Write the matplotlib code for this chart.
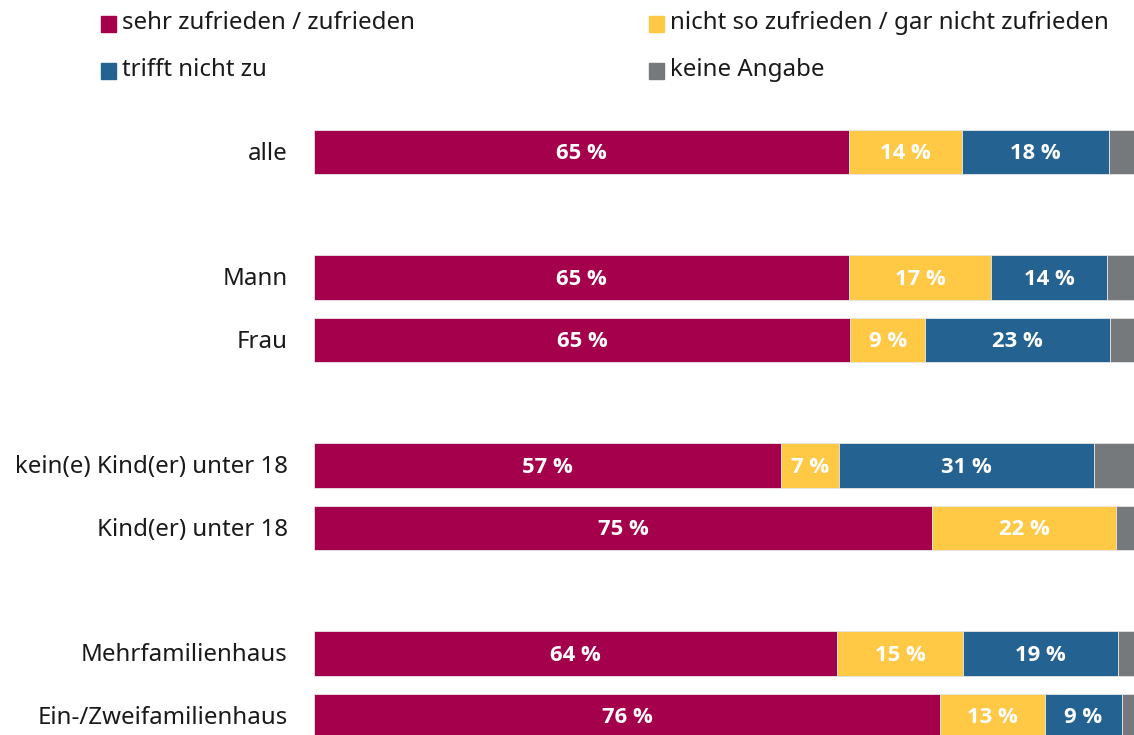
import matplotlib.pyplot as plt
from matplotlib.patches import Rectangle

plt.rcParams['font.family'] = ['Noto Sans', 'DejaVu Sans']

categories = ['alle', 'Mann', 'Frau', 'kein(e) Kind(er) unter 18', 'Kind(er) unter 18',
              'Mehrfamilienhaus', 'Ein-/Zweifamilienhaus']
slots = [0, 2, 3, 5, 6, 8, 9]

series_names = ['sehr zufrieden / zufrieden', 'nicht so zufrieden / gar nicht zufrieden',
                'trifft nicht zu', 'keine Angabe']
zufrieden = [65.2, 65.2, 65.4, 57.0, 75.4, 63.8, 76.4]
nicht_zufrieden = [13.8, 17.4, 9.1, 7.0, 22.4, 15.4, 12.7]
trifft_nicht_zu = [17.9, 14.1, 22.6, 31.1, 0.0, 18.8, 9.4]
keine_angabe = [3.1, 3.3, 2.9, 4.9, 2.2, 2.0, 1.5]

colors = ['#a5004b', '#ffc845', '#246291', '#76797c']
show_label = [True, True, True, False]

W, H = 1134, 735
fig = plt.figure(figsize=(W / 100, H / 100), dpi=100)
ax = fig.add_axes([314 / W, 0, 820 / W, 1])

unit = 62.67
ax.set_ylim((H - 152) / unit, -152 / unit)
ax.set_xlim(0, 100)

left = [0.0] * len(categories)
for vals, col, lab in zip([zufrieden, nicht_zufrieden, trifft_nicht_zu, keine_angabe],
                          colors, show_label):
    ax.barh(slots, vals, left=left, height=0.71, color=col,
            edgecolor='#e6e6e6', linewidth=0.6)
    if lab:
        for s, l, v in zip(slots, left, vals):
            if v > 0:
                ax.text(l + v / 2, s + 0.03, f'{round(v)} %', ha='center', va='center',
                        color='white', fontsize=15.8, fontweight='bold',
                        family=['Open Sans', 'DejaVu Sans'])
    left = [a + b for a, b in zip(left, vals)]

for s, c in zip(slots, categories):
    ax.text(-3.2, s + 0.03, c, ha='right', va='center', fontsize=17.3, color='#1a1a1a')

ax.axis('off')

# legend
leg_pos = [(101, 24), (649, 24), (101, 71), (649, 71)]
for (x, y), name, col in zip(leg_pos, series_names, colors):
    fig.patches.append(Rectangle((x / W, 1 - (y + 7.5) / H), 15 / W, 15 / H,
                                 transform=fig.transFigure, color=col))
    fig.text((x + 21) / W, 1 - (y - 1) / H, name, ha='left', va='center',
             fontsize=17.3, color='#1a1a1a')

fig.savefig('out.png', dpi=100)
